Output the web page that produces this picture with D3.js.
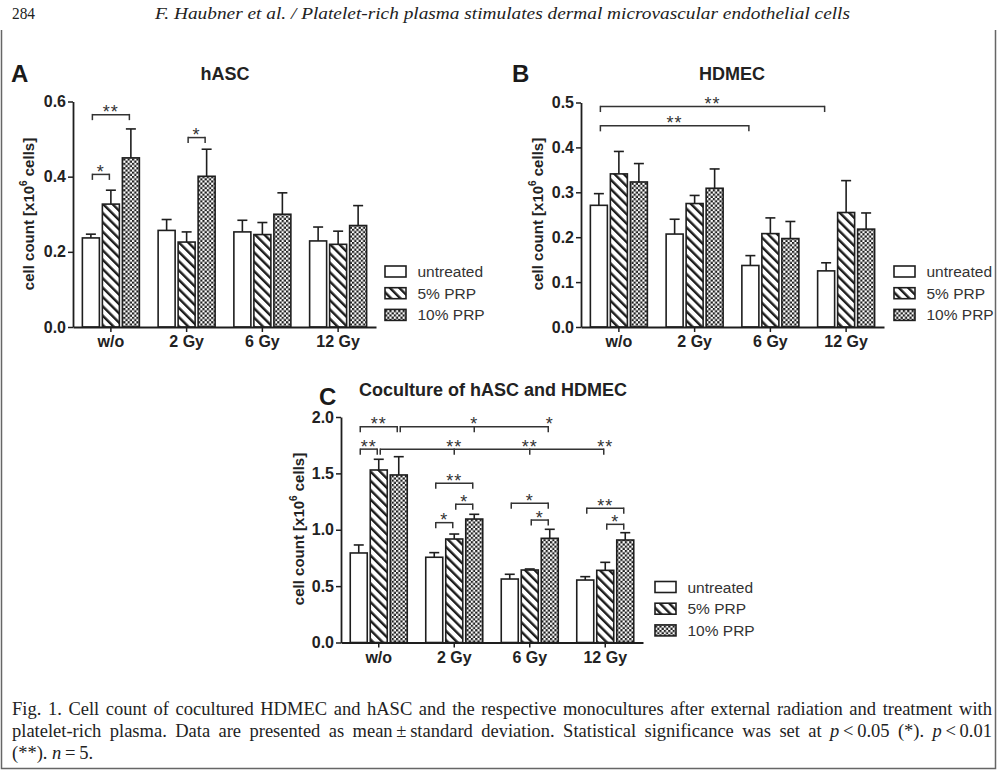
<!DOCTYPE html>
<html>
<head>
<meta charset="utf-8">
<script src="https://cdn.jsdelivr.net/npm/d3@7"></script>
<style>
  html, body { margin: 0; padding: 0; background: #fff; }
  #wrap { position: relative; width: 1000px; height: 772px; overflow: hidden; }
  svg { position: absolute; left: 0; top: 0; }
  .cap { position: absolute; left: 12px; width: 980px; font-family: "Liberation Serif", "Times New Roman", serif;
         font-size: 18.5px; color: #222; white-space: nowrap; line-height: 22px; }
  .just { text-align: justify; text-align-last: justify; }
</style>
</head>
<body>
<div id="wrap"></div>
<script>
// ---------------- DATA ----------------
const groups = ["w/o", "2 Gy", "6 Gy", "12 Gy"];
const seriesNames = ["untreated", "5% PRP", "10% PRP"];

// Panel A: hASC  (rows: untreated, 5% PRP, 10% PRP)
const hascMeans = [
  [0.237, 0.257, 0.253, 0.229],
  [0.327, 0.226, 0.246, 0.220],
  [0.450, 0.401, 0.300, 0.270]
];
const hascSD = [
  [0.010, 0.029, 0.031, 0.037],
  [0.037, 0.027, 0.032, 0.035],
  [0.077, 0.072, 0.057, 0.053]
];
const hascTicks = [0, 0.2, 0.4, 0.6];

// Panel B: HDMEC
const hdmecMeans = [
  [0.271, 0.207, 0.137, 0.125],
  [0.341, 0.275, 0.208, 0.255],
  [0.323, 0.309, 0.197, 0.218]
];
const hdmecSD = [
  [0.026, 0.033, 0.022, 0.018],
  [0.050, 0.018, 0.035, 0.071],
  [0.041, 0.043, 0.038, 0.036]
];
const hdmecTicks = [0, 0.1, 0.2, 0.3, 0.4, 0.5];

// Panel C: Coculture
const cocMeans = [
  [0.794, 0.756, 0.563, 0.554],
  [1.530, 0.918, 0.643, 0.640],
  [1.486, 1.095, 0.924, 0.909]
];
const cocSD = [
  [0.071, 0.041, 0.042, 0.030],
  [0.095, 0.044, 0.009, 0.071],
  [0.162, 0.042, 0.080, 0.065]
];
const cocTicks = [0, 0.5, 1.0, 1.5, 2.0];

// Significance brackets: from [group, series] to list of [group, series], height in data units
const hascBrackets = [
  { label: "*",  from: [0, 0], to: [[0, 1]], y: 0.406 },
  { label: "**", from: [0, 0], to: [[0, 2]], y: 0.565 },
  { label: "*",  from: [1, 1], to: [[1, 2]], y: 0.504 }
];
const hdmecBrackets = [
  { label: "**", from: [0, 0], to: [[3, 0]], y: 0.491 },
  { label: "**", from: [0, 0], to: [[2, 0]], y: 0.448 }
];
const cocBrackets = [
  { label: "**", from: [0, 0], to: [[0, 2]], y: 1.914 },
  { label: "*",  from: [0, 2], to: [[1, 2], [2, 2]], y: 1.914 },
  { label: "**", from: [0, 0], to: [[0, 1]], y: 1.715 },
  { label: "**", from: [0, 1], to: [[1, 1], [2, 1], [3, 1]], y: 1.715 },
  { label: "**", from: [1, 0], to: [[1, 2]], y: 1.412 },
  { label: "*",  from: [1, 1], to: [[1, 2]], y: 1.226 },
  { label: "*",  from: [1, 0], to: [[1, 1]], y: 1.063 },
  { label: "*",  from: [2, 0], to: [[2, 2]], y: 1.235 },
  { label: "*",  from: [2, 1], to: [[2, 2]], y: 1.086 },
  { label: "**", from: [3, 0], to: [[3, 2]], y: 1.190 },
  { label: "*",  from: [3, 1], to: [[3, 2]], y: 1.048 }
];

// ---------------- DRAWING ----------------
const W = 1000, H = 772;
const wrap = d3.select("#wrap");
const svg = wrap.append("svg").attr("width", W).attr("height", H);
const SANS = "'Liberation Sans', Arial, Helvetica, sans-serif";
const SERIF = "'Liberation Serif', 'Times New Roman', serif";
const INK = "#1e1e1e";

const defs = svg.append("defs");
const diag = defs.append("pattern").attr("id", "diag").attr("patternUnits", "userSpaceOnUse")
  .attr("width", 6.6).attr("height", 6.6).attr("patternTransform", "rotate(-45)");
diag.append("rect").attr("width", 6.6).attr("height", 6.6).attr("fill", "#fff");
diag.append("line").attr("x1", 1.2).attr("y1", -1).attr("x2", 1.2).attr("y2", 8)
  .attr("stroke", INK).attr("stroke-width", 2.5);

const chk = defs.append("pattern").attr("id", "chk").attr("patternUnits", "userSpaceOnUse")
  .attr("width", 4.4).attr("height", 4.4);
chk.append("rect").attr("width", 4.4).attr("height", 4.4).attr("fill", "#fff");
chk.append("rect").attr("x", 0).attr("y", 0).attr("width", 2.2).attr("height", 2.2).attr("fill", INK);
chk.append("rect").attr("x", 2.2).attr("y", 2.2).attr("width", 2.2).attr("height", 2.2).attr("fill", INK);

const fills = ["#fff", "url(#diag)", "url(#chk)"];

// frame
svg.append("path").attr("d", "M1.5,30 V768.5 H995.5 V30")
  .attr("fill", "none").attr("stroke", "#666").attr("stroke-width", 1.5);

// header
svg.append("text").attr("x", 12).attr("y", 19).text("284")
  .attr("font-family", SERIF).attr("font-size", 17).attr("fill", "#222")
  .attr("textLength", 23).attr("lengthAdjust", "spacingAndGlyphs");
svg.append("text").attr("x", 155).attr("y", 19)
  .text("F. Haubner et al. / Platelet-rich plasma stimulates dermal microvascular endothelial cells")
  .attr("font-family", SERIF).attr("font-style", "italic").attr("font-size", 17.5).attr("fill", "#222")
  .attr("textLength", 695).attr("lengthAdjust", "spacingAndGlyphs");

function panel(cfg) {
  const g = svg.append("g");
  const y = d3.scaleLinear().domain([0, cfg.max]).range([cfg.yBot, cfg.yTop]);
  const x = d3.scaleBand().domain(groups).range([cfg.x0, cfg.x1]);
  const xs = d3.scaleBand().domain(seriesNames).range([-28.5, 28.5]).paddingInner(0.15);
  const cx = (gi, si) => x(groups[gi]) + x.bandwidth() / 2 + xs(seriesNames[si]) + xs.bandwidth() / 2;

  // bars + error bars
  seriesNames.forEach((s, si) => {
    const rows = cfg.means[si].map((m, gi) => ({ m, sd: cfg.sd[si][gi], gi }));
    const eb = g.append("g").attr("stroke", INK).attr("stroke-width", 1.6).attr("fill", "none");
    eb.selectAll("line.v").data(rows).join("line").attr("class", "v")
      .attr("x1", d => cx(d.gi, si)).attr("x2", d => cx(d.gi, si))
      .attr("y1", d => y(d.m)).attr("y2", d => y(d.m + d.sd));
    eb.selectAll("line.c").data(rows).join("line").attr("class", "c")
      .attr("x1", d => cx(d.gi, si) - 5).attr("x2", d => cx(d.gi, si) + 5)
      .attr("y1", d => y(d.m + d.sd)).attr("y2", d => y(d.m + d.sd));
    g.append("g").selectAll("rect").data(rows).join("rect")
      .attr("x", d => cx(d.gi, si) - xs.bandwidth() / 2)
      .attr("y", d => y(d.m))
      .attr("width", xs.bandwidth())
      .attr("height", d => y(0) - y(d.m))
      .attr("fill", fills[si]).attr("stroke", INK).attr("stroke-width", 1.6);
  });

  // axes
  const ya = g.append("g").attr("transform", `translate(${cfg.x0},0)`)
    .call(d3.axisLeft(y).tickValues(cfg.ticks).tickFormat(d3.format(".1f"))
      .tickSize(5).tickSizeOuter(0).tickPadding(2));
  const xa = g.append("g").attr("transform", `translate(0,${cfg.yBot})`)
    .call(d3.axisBottom(x).tickSize(5).tickSizeOuter(0).tickPadding(4));
  [ya, xa].forEach(a => {
    a.select(".domain").attr("stroke", INK).attr("stroke-width", 1.8);
    a.selectAll(".tick line").attr("stroke", INK).attr("stroke-width", 1.5);
    a.selectAll("text").attr("font-family", SANS).attr("font-weight", "bold")
      .attr("font-size", 16).attr("fill", "#222");
  });

  // brackets
  const bg = g.append("g");
  cfg.brackets.forEach(b => {
    const by = y(b.y);
    const x1 = cx(b.from[0], b.from[1]) + 1.5;
    const ends = b.to.map(t => cx(t[0], t[1]));
    const x2 = ends[ends.length - 1] - 1.5;
    bg.append("line").attr("x1", x1).attr("x2", x2).attr("y1", by).attr("y2", by)
      .attr("stroke", "#333").attr("stroke-width", 1.5);
    const tickXs = [x1].concat(ends.slice(0, -1)).concat([x2]);
    tickXs.forEach(tx => bg.append("line").attr("x1", tx).attr("x2", tx)
      .attr("y1", by - 0.75).attr("y2", by + 5.5).attr("stroke", "#333").attr("stroke-width", 1.5));
    const labXs = b.to.length === 1 ? [(x1 + x2) / 2] : ends;
    labXs.forEach(lx => bg.append("text").attr("x", lx).attr("y", by + 3.5)
      .attr("text-anchor", "middle").attr("font-family", SANS).attr("font-size", 18)
      .attr("letter-spacing", 1).attr("fill", "#333").text(b.label));
  });

  // title & letter
  svg.append("text").attr("x", cfg.titleX).attr("y", cfg.titleY).attr("text-anchor", "middle")
    .attr("font-family", SANS).attr("font-weight", "bold").attr("font-size", 18).attr("fill", "#222")
    .text(cfg.title);
  svg.append("text").attr("x", cfg.letterX).attr("y", cfg.letterY)
    .attr("font-family", SANS).attr("font-weight", "bold").attr("font-size", 24).attr("fill", "#1a1a1a")
    .text(cfg.letter);

  // y label
  const yl = svg.append("text")
    .attr("transform", `translate(${cfg.ylabX},${cfg.ylabY}) rotate(-90)`)
    .attr("text-anchor", "middle").attr("dy", "0.35em")
    .attr("font-family", SANS).attr("font-weight", "bold").attr("font-size", 15).attr("fill", "#222");
  yl.append("tspan").text("cell count [x10");
  yl.append("tspan").attr("font-size", 10).attr("dy", "-0.75em").text("6");
  yl.append("tspan").attr("dy", "0.5em").text(" cells]");

  // legend
  const lg = svg.append("g").attr("transform", `translate(${cfg.legX},${cfg.legY})`);
  seriesNames.forEach((s, si) => {
    lg.append("rect").attr("x", 0).attr("y", si * 21.7).attr("width", 21).attr("height", 11)
      .attr("fill", fills[si]).attr("stroke", INK).attr("stroke-width", 1.6);
    lg.append("text").attr("x", 32.5).attr("y", si * 21.7 + 11)
      .attr("font-family", SANS).attr("font-size", 15.5).attr("fill", "#333").text(s);
  });
}

panel({ means: hascMeans, sd: hascSD, ticks: hascTicks, brackets: hascBrackets, max: 0.6,
  x0: 73, x1: 376, yTop: 101.5, yBot: 327,
  title: "hASC", titleX: 225, titleY: 80, letter: "A", letterX: 11, letterY: 82,
  ylabX: 29, ylabY: 214, legX: 385, legY: 266 });

panel({ means: hdmecMeans, sd: hdmecSD, ticks: hdmecTicks, brackets: hdmecBrackets, max: 0.5,
  x0: 581, x1: 884, yTop: 102.5, yBot: 327,
  title: "HDMEC", titleX: 732, titleY: 80, letter: "B", letterX: 512, letterY: 82,
  ylabX: 538, ylabY: 214, legX: 894, legY: 266 });

panel({ means: cocMeans, sd: cocSD, ticks: cocTicks, brackets: cocBrackets, max: 2.0,
  x0: 341, x1: 643, yTop: 417, yBot: 642.5,
  title: "Coculture of hASC and HDMEC", titleX: 493, titleY: 396, letter: "C", letterX: 319, letterY: 404.5,
  ylabX: 299, ylabY: 529, legX: 655, legY: 581.5 });

// caption
const c1 = wrap.append("div").attr("class", "cap just").style("top", "698px");
c1.html("Fig. 1. Cell count of cocultured HDMEC and hASC and the respective monocultures after external radiation and treatment with");
const c2 = wrap.append("div").attr("class", "cap just").style("top", "720px");
c2.html("platelet-rich plasma. Data are presented as mean\u2009\u00b1\u2009standard deviation. Statistical significance was set at <i>p</i>\u2009&lt;\u20090.05 (*). <i>p</i>\u2009&lt;\u20090.01");
const c3 = wrap.append("div").attr("class", "cap").style("top", "742px");
c3.html("(**). <i>n</i>\u2009=\u20095.");
</script>
</body>
</html>
